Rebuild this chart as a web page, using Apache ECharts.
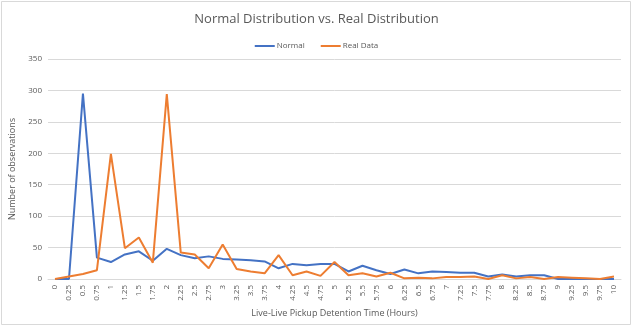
<!DOCTYPE html>
<html>
<head>
<meta charset="utf-8">
<script src="https://cdn.jsdelivr.net/npm/echarts@6/dist/echarts.min.js"></script>
<style>
  html, body { margin: 0; padding: 0; background: #fff; }
  #chart { width: 633px; height: 327px; }
</style>
</head>
<body>
<div id="chart"></div>
<script>
// x categories: hours, step 0.25
const hours = ['0','0.25','0.5','0.75','1','1.25','1.5','1.75','2','2.25','2.5','2.75','3','3.25','3.5','3.75',
  '4','4.25','4.5','4.75','5','5.25','5.5','5.75','6','6.25','6.5','6.75','7','7.25','7.5','7.75',
  '8','8.25','8.5','8.75','9','9.25','9.5','9.75','10'];

const normalValues = [0, 0, 295, 34, 27, 39, 44, 29, 48, 38, 33, 36, 32, 31, 30, 28,
  17, 24, 22, 24, 24, 12, 21, 14, 8, 15, 9, 12, 11, 10, 10, 4,
  7, 4, 6, 6, 0, 0, 0, 0, 0];

const realValues = [0, 4, 8, 14, 199, 49, 66, 26, 294, 42, 39, 17, 55, 16, 12, 9,
  38, 6, 12, 5, 27, 6, 9, 4, 10, 1, 2, 1, 3, 3, 4, 0,
  6, 1, 3, 0, 3, 2, 1, 0, 4];

const chart = echarts.init(document.getElementById('chart'));
const txt = '#595959';
const font = '"Open Sans", Calibri, sans-serif';

chart.setOption({
  backgroundColor: '#fff',
  animation: false,
  textStyle: { fontFamily: font },
  graphic: [{
    type: 'rect',
    shape: { x: 1.5, y: 1.5, width: 629, height: 323 },
    style: { fill: 'none', stroke: '#d9d9d9', lineWidth: 1 }
  }],
  title: {
    text: 'Normal Distribution vs. Real Distribution',
    left: 'center',
    top: 8,
    textStyle: { color: txt, fontSize: 13, fontWeight: 'normal', fontFamily: font }
  },
  legend: {
    top: 37,
    left: 'center',
    itemWidth: 20,
    itemHeight: 2,
    itemGap: 16,
    icon: 'rect',
    textStyle: { color: txt, fontSize: 8, fontFamily: font, padding: [0, 0, 0, -3] },
    data: ['Normal', 'Real Data']
  },
  grid: { left: 48, right: 12, top: 59, bottom: 48 },
  xAxis: {
    type: 'category',
    data: hours,
    boundaryGap: true,
    name: 'Live-Live Pickup Detention Time (Hours)',
    nameLocation: 'middle',
    nameGap: 26,
    nameTextStyle: { color: txt, fontSize: 9 },
    axisLine: { lineStyle: { color: '#d9d9d9' } },
    axisTick: { show: false },
    axisLabel: { rotate: 90, interval: 0, color: txt, fontSize: 8, margin: 6 }
  },
  yAxis: {
    type: 'value',
    min: 0,
    max: 350,
    interval: 50,
    name: 'Number of observations',
    nameLocation: 'middle',
    nameGap: 24,
    nameTextStyle: { color: txt, fontSize: 9 },
    axisLine: { show: false },
    axisTick: { show: false },
    axisLabel: { color: txt, fontSize: 8, margin: 6 },
    splitLine: { lineStyle: { color: '#d9d9d9' } }
  },
  series: [
    {
      name: 'Normal',
      type: 'line',
      data: normalValues,
      symbol: 'none',
      lineStyle: { color: '#4472C4', width: 2 },
      itemStyle: { color: '#4472C4' }
    },
    {
      name: 'Real Data',
      type: 'line',
      data: realValues,
      symbol: 'none',
      lineStyle: { color: '#ED7D31', width: 2 },
      itemStyle: { color: '#ED7D31' }
    }
  ]
});
</script>
</body>
</html>
